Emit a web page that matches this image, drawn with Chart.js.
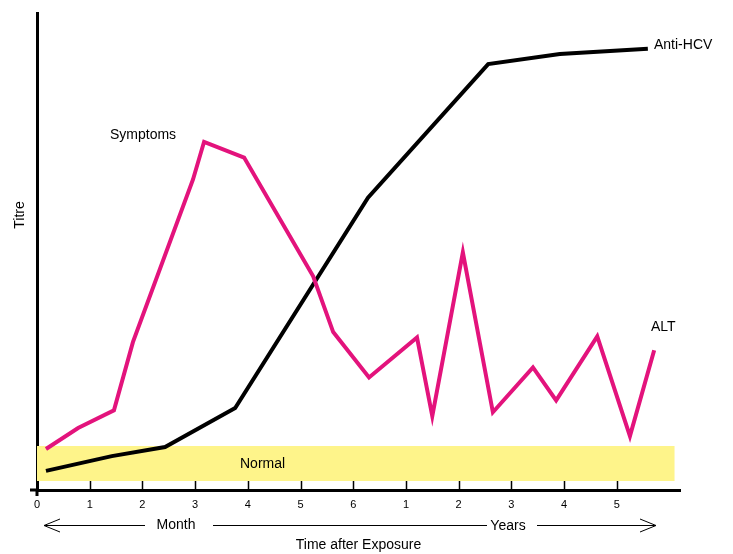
<!DOCTYPE html>
<html>
<head>
<meta charset="utf-8">
<script src="https://cdn.jsdelivr.net/npm/chart.js@4.4.0/dist/chart.umd.min.js"></script>
<style>
  html, body { margin: 0; padding: 0; background: #fff; }
  #wrap { width: 733px; height: 554px; }
</style>
</head>
<body>
<div id="wrap"><canvas id="titre"></canvas></div>
<script>
// x positions: 0..6 = months, 7..11 = years 1..5
const tickLabels = ['0', '1', '2', '3', '4', '5', '6', '1', '2', '3', '4', '5'];

const antiHcvX = [0.17, 1.42, 2.43, 3.76, 6.28, 8.56, 9.92, 11.59];
const antiHcvY = [4.0, 7.1, 9.0, 17.2, 61.3, 89.3, 91.4, 92.5];

const altX = [0.17, 0.78, 1.46, 1.82, 2.96, 3.17, 3.93, 5.24, 5.62, 6.30, 7.21, 7.50, 8.08, 8.65, 9.41, 9.85, 10.63, 11.25, 11.71];
const altY = [8.6, 13.0, 16.7, 31.0, 65.1, 73.0, 69.7, 44.8, 33.1, 23.6, 32.0, 15.5, 49.8, 16.3, 25.7, 18.8, 32.2, 11.3, 29.3];

// normal range band
const normalX = [0, 12.1];
const normalLow = 1.9;
const normalHigh = 9.2;

const FONT = 'Liberation Sans, Arial, Helvetica, sans-serif';
const MAGENTA = '#e3137c';

function pts(xs, ys) {
  return xs.map((x, i) => ({ x: x, y: ys[i] }));
}

// extra drawing: axis overhangs, inner tick marks, labels, arrows
const annotations = {
  id: 'annotations',
  afterDraw(chart) {
    const ctx = chart.ctx;
    const xs = chart.scales.x;
    const area = chart.chartArea;
    ctx.save();
    ctx.strokeStyle = '#000';

    // axis overhangs
    ctx.lineWidth = 3;
    ctx.beginPath();
    ctx.moveTo(30, area.bottom);
    ctx.lineTo(area.left, area.bottom);
    ctx.moveTo(area.left, area.bottom);
    ctx.lineTo(area.left, area.bottom + 6);
    ctx.stroke();

    // tick marks pointing up from x axis
    ctx.lineWidth = 1.5;
    ctx.beginPath();
    for (let i = 1; i < tickLabels.length; i++) {
      const px = Math.round(xs.getPixelForValue(i)) + 0.5;
      ctx.moveTo(px, area.bottom - 9);
      ctx.lineTo(px, area.bottom);
    }
    ctx.stroke();

    ctx.fillStyle = '#000';
    ctx.font = '14px ' + FONT;
    ctx.textBaseline = 'middle';
    ctx.textAlign = 'left';
    ctx.fillText('Anti-HCV', 654, 45);
    ctx.fillText('Symptoms', 110, 135);
    ctx.fillText('ALT', 651, 327);
    ctx.fillText('Normal', 240, 464);

    // Titre
    ctx.save();
    ctx.translate(20, 215);
    ctx.rotate(-Math.PI / 2);
    ctx.textAlign = 'center';
    ctx.fillText('Titre', 0, 0);
    ctx.restore();

    // Month / Years arrows
    const ay = 525;
    ctx.textAlign = 'center';
    ctx.fillText('Month', 176, ay);
    ctx.fillText('Years', 508, ay + 1);
    ctx.lineWidth = 1;
    ctx.beginPath();
    ctx.moveTo(44, ay + 0.5); ctx.lineTo(145, ay + 0.5);
    ctx.moveTo(213, ay + 0.5); ctx.lineTo(487, ay + 0.5);
    ctx.moveTo(537, ay + 0.5); ctx.lineTo(656, ay + 0.5);
    // arrowheads
    ctx.moveTo(60, ay - 6); ctx.lineTo(44, ay + 0.5); ctx.lineTo(60, ay + 7);
    ctx.moveTo(640, ay - 6); ctx.lineTo(656, ay + 0.5); ctx.lineTo(640, ay + 7);
    ctx.stroke();

    ctx.restore();
  }
};

new Chart(document.getElementById('titre'), {
  type: 'line',
  data: {
    datasets: [
      {
        label: 'Anti-HCV',
        data: pts(antiHcvX, antiHcvY),
        borderColor: '#000',
        borderWidth: 4,
        pointRadius: 0,
        tension: 0,
        fill: false,
        order: 1
      },
      {
        label: 'ALT',
        data: pts(altX, altY),
        borderColor: MAGENTA,
        borderWidth: 4,
        pointRadius: 0,
        tension: 0,
        fill: false,
        order: 0
      },
      {
        label: 'normal-low',
        data: normalX.map(x => ({ x: x, y: normalLow })),
        borderWidth: 0,
        pointRadius: 0,
        fill: false,
        order: 5
      },
      {
        label: 'Normal',
        data: normalX.map(x => ({ x: x, y: normalHigh })),
        borderWidth: 0,
        pointRadius: 0,
        backgroundColor: '#fef48a',
        fill: '-1',
        order: 4
      }
    ]
  },
  options: {
    responsive: true,
    maintainAspectRatio: false,
    animation: false,
    layout: { padding: { left: 37, right: 53, top: 13, bottom: 0 } },
    plugins: {
      legend: { display: false },
      tooltip: { enabled: false },
      filler: { drawTime: 'beforeDatasetsDraw' }
    },
    scales: {
      x: {
        type: 'linear',
        min: 0,
        max: 12.2,
        grid: { display: false, drawTicks: false },
        border: { display: true, color: '#000', width: 3 },
        ticks: {
          stepSize: 1,
          padding: 8,
          color: '#000',
          font: { family: FONT, size: 11 },
          maxRotation: 0,
          autoSkip: false,
          callback: (v) => tickLabels[v] !== undefined ? tickLabels[v] : ''
        },
        title: {
          display: true,
          text: 'Time after Exposure',
          color: '#000',
          font: { family: FONT, size: 14 },
          padding: { top: 18, bottom: 0 }
        }
      },
      y: {
        min: 0,
        max: 100,
        grid: { display: false, drawTicks: false },
        border: { display: true, color: '#000', width: 3 },
        ticks: { display: false }
      }
    }
  },
  plugins: [annotations]
});
</script>
</body>
</html>
